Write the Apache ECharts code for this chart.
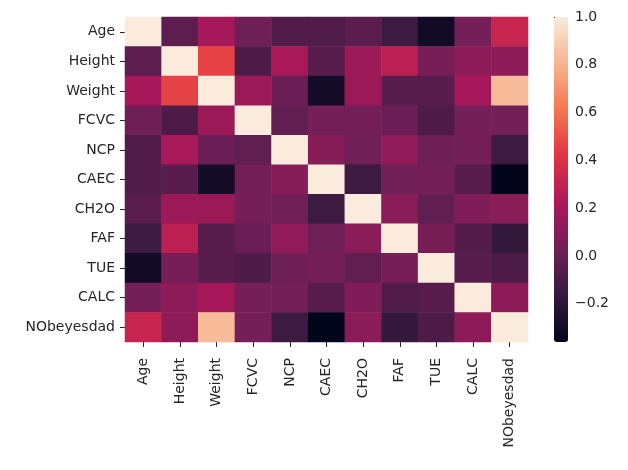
<!DOCTYPE html>
<html><head><meta charset="utf-8">
<script src="https://cdn.jsdelivr.net/npm/echarts@6/dist/echarts.min.js"></script>
<style>html,body{margin:0;padding:0;background:#fff}#c{width:628px;height:470px}</style>
</head><body><div id="c"></div>
<script>
const labels = ['Age','Height','Weight','FCVC','NCP','CAEC','CH2O','FAF','TUE','CALC','NObeyesdad'];

const rowAge    = [ 1.00, -0.03,  0.20,  0.02, -0.07, -0.07, -0.04, -0.14, -0.30,  0.04,  0.32];
const rowHeight = [-0.03,  1.00,  0.46, -0.09,  0.21, -0.05,  0.17,  0.28,  0.05,  0.12,  0.12];
const rowWeight = [ 0.20,  0.46,  1.00,  0.17,  0.01, -0.29,  0.17, -0.05, -0.05,  0.20,  0.83];
const rowFCVC   = [ 0.02, -0.09,  0.17,  1.00, -0.02,  0.04,  0.04,  0.01, -0.08,  0.04,  0.04];
const rowNCP    = [-0.07,  0.21,  0.01, -0.02,  1.00,  0.10,  0.03,  0.13,  0.02,  0.04, -0.14];
const rowCAEC   = [-0.07, -0.05, -0.29,  0.04,  0.10,  1.00, -0.14,  0.03,  0.04, -0.05, -0.36];
const rowCH2O   = [-0.04,  0.17,  0.17,  0.04,  0.03, -0.14,  1.00,  0.11, -0.02,  0.08,  0.11];
const rowFAF    = [-0.14,  0.28, -0.05,  0.01,  0.13,  0.03,  0.11,  1.00,  0.05, -0.07, -0.17];
const rowTUE    = [-0.30,  0.05, -0.05, -0.08,  0.02,  0.04, -0.02,  0.05,  1.00, -0.05, -0.09];
const rowCALC   = [ 0.04,  0.12,  0.20,  0.04,  0.04, -0.05,  0.08, -0.07, -0.05,  1.00,  0.12];
const rowNObey  = [ 0.32,  0.12,  0.83,  0.04, -0.14, -0.36,  0.11, -0.17, -0.09,  0.12,  1.00];

const colorbarTicks = [-0.2, 0.0, 0.2, 0.4, 0.6, 0.8, 1.0];
const rocket = ['#03051a','#35193e','#701f57','#ad1759','#e13342','#f37651','#f6b48f','#faebdd'];

const rows = [rowAge,rowHeight,rowWeight,rowFCVC,rowNCP,rowCAEC,rowCH2O,rowFAF,rowTUE,rowCALC,rowNObey];
const data = [];
rows.forEach((r,i)=>r.forEach((v,j)=>data.push([j,i,v])));
const vmin = Math.min(...rows.flat());
const vmax = Math.max(...rows.flat());

const txt = {fontFamily:'DejaVu Sans', fontSize:14, color:'#262626'};
const chart = echarts.init(document.getElementById('c'), null, {renderer:'canvas'});
chart.setOption({
  animation:false,
  backgroundColor:'#fff',
  grid:[{left:125, top:17, width:403, height:325},
        {left:554, top:17, width:14, height:325}],
  xAxis:[
    {type:'category', data:labels, gridIndex:0,
     axisLine:{show:false},
     axisTick:{show:true, alignWithLabel:true, length:5, lineStyle:{color:'#262626', width:1}},
     axisLabel:Object.assign({rotate:90, margin:16, interval:0}, txt),
     splitLine:{show:false}},
    {type:'value', gridIndex:1, show:false, min:0, max:1}
  ],
  yAxis:[
    {type:'category', data:labels, inverse:true, gridIndex:0,
     axisLine:{show:false},
     axisTick:{show:true, alignWithLabel:true, length:5, lineStyle:{color:'#262626', width:1}},
     axisLabel:Object.assign({margin:10, interval:0}, txt),
     splitLine:{show:false}},
    {type:'value', gridIndex:1, position:'right', min:vmin, max:vmax,
     axisLine:{show:false},
     axisTick:{show:true, length:4, customValues:colorbarTicks, lineStyle:{color:'#262626', width:1}},
     axisLabel:Object.assign({margin:7, customValues:colorbarTicks,
       formatter:v=>(v<-1e-9?'\u2212':'')+Math.abs(v).toFixed(1)}, txt),
     splitLine:{show:false}}
  ],
  visualMap:{type:'continuous', min:vmin, max:vmax, seriesIndex:0,
    calculable:false, hoverLink:false, orient:'vertical',
    left:554, top:17, itemWidth:14, itemHeight:325, padding:0,
    inRange:{color:rocket}},
  series:[{type:'heatmap', xAxisIndex:0, yAxisIndex:0, data:data,
    itemStyle:{borderWidth:0}, emphasis:{disabled:true}}]
});
</script>
</body></html>
